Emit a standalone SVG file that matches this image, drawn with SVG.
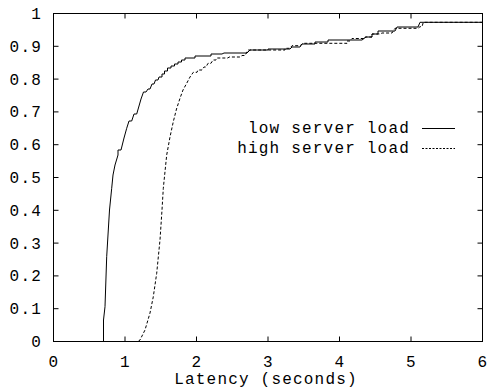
<svg xmlns="http://www.w3.org/2000/svg" width="488" height="388" viewBox="0 0 488 388">
<style>
text{font-family:"Liberation Mono","DejaVu Sans Mono",monospace;font-size:16px;letter-spacing:1.2px;fill:#000}
.yl{text-anchor:end}
.xl{text-anchor:middle}
.ax{fill:none;stroke:#000;stroke-width:1}
.c{fill:none;stroke:#000;stroke-width:1}
.d{fill:none;stroke:#000;stroke-width:1;stroke-dasharray:3,2}
</style>
<rect width="488" height="388" fill="#fff"/>
<g id="axes">
<rect class="ax" x="53.5" y="13.5" width="429" height="328"/>
<path class="ax" d="M125,341.5v-5M196.5,341.5v-5M268,341.5v-5M339.5,341.5v-5M411,341.5v-5M125,13.5v5M196.5,13.5v5M268,13.5v5M339.5,13.5v5M411,13.5v5M53.5,308.7h5M53.5,275.9h5M53.5,243.1h5M53.5,210.3h5M53.5,177.5h5M53.5,144.7h5M53.5,111.9h5M53.5,79.1h5M53.5,46.3h5M482.5,308.7h-5M482.5,275.9h-5M482.5,243.1h-5M482.5,210.3h-5M482.5,177.5h-5M482.5,144.7h-5M482.5,111.9h-5M482.5,79.1h-5M482.5,46.3h-5"/>
<text class="yl" x="42" y="347">0</text>
<text class="yl" x="42" y="314.2">0.1</text>
<text class="yl" x="42" y="281.4">0.2</text>
<text class="yl" x="42" y="248.6">0.3</text>
<text class="yl" x="42" y="215.8">0.4</text>
<text class="yl" x="42" y="183">0.5</text>
<text class="yl" x="42" y="150.2">0.6</text>
<text class="yl" x="42" y="117.4">0.7</text>
<text class="yl" x="42" y="84.6">0.8</text>
<text class="yl" x="42" y="51.8">0.9</text>
<text class="yl" x="42" y="19">1</text>
<text class="xl" x="54" y="367">0</text>
<text class="xl" x="125.5" y="367">1</text>
<text class="xl" x="197" y="367">2</text>
<text class="xl" x="268.5" y="367">3</text>
<text class="xl" x="340" y="367">4</text>
<text class="xl" x="411.5" y="367">5</text>
<text class="xl" x="483" y="367">6</text>
<text class="xl" x="266" y="384">Latency (seconds)</text>
</g>
<g id="connectors">
<path id="low" class="c" d="M53.5,341.5 H103.5 V320 L105,306.7 L106.7,256.7 L107.7,240 L109.5,210 L111.7,188.3 L113,175 L115,165 L118,155 V150 H121 L124,138 L126.7,128.3 L129,121 H131.7 L134,114 H136.7 L139,106 L141,99 L143.5,92 H146 L148,89 H150 L152,84 H154 L155.5,80 H158 L159,77 H162 V74 H164.5 V71 H167.5 V68 H171 V66 H174.5 V64 H178 V62 H181.5 V60 H185 V58 H195 V56 H211 V54 H222 L224,53 H247 L250,50 H268 V49 H290 L292,47 H300 L302,44 H315 V42 H328 V40 H362 L366,37 H372 V34 H378 V31 H395 L397,27 H418 L420,22.3 H482.5"/>
<path id="high" class="d" d="M53.5,341.5 H138 L140,340 L145,330 L150,313 L153.3,296.7 L156.7,273.3 L159,250 L160,240 L162,210 L163.3,188.3 L166.7,155 L170,137 L173.3,121.7 L176.5,109 L180,98.3 L183,90 L186.7,83.3 L190,77 L193.3,72.3 H197 L198,70 H202 L204,67 H206 L208,63.3 H211 L213,60 H216 L217,58 H228 L229,57 H240 L242,55.5 H245 L248,50 H285 V48.3 H290 L292,45.7 H300 L303,43.3 H347 V41 H350 L352,38.5 H365 V37 H372 V34 H380 L382,33 H392 L395,28.3 H418 L420,26.7 H422 L423.3,22.3 H482.5"/>
</g>
<g id="legend">
<text class="yl" x="410" y="133">low server load</text>
<text class="yl" x="410" y="153">high server load</text>
<path class="c" d="M422,128.5H455"/>
<path class="d" d="M422,148.5H455" style="stroke-dasharray:2,1.5"/>
</g>
</svg>
